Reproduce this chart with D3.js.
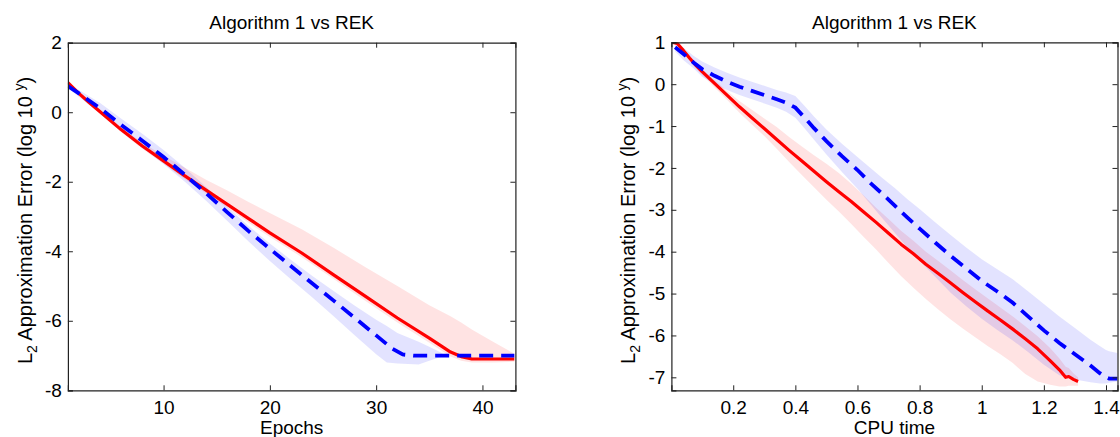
<!DOCTYPE html>
<html>
<head>
<meta charset="utf-8">
<script src="https://cdn.jsdelivr.net/npm/d3@7"></script>
<style>
  html, body { margin: 0; padding: 0; background: #fff; }
  svg { display: block; font-family: "Liberation Sans", Arial, sans-serif; }
</style>
</head>
<body>
<svg id="chart" width="1120" height="437"></svg>
<script>
// ---------------- DATA ----------------
const titleText = "Algorithm 1 vs REK";

// Left panel: Epochs
const epochTicks = [10, 20, 30, 40];
const epochYTicks = [-8, -6, -4, -2, 0, 2];
const redEpochX = [1, 2, 3, 4, 6, 8, 10, 12, 14, 16, 18, 20, 23, 26, 29, 32, 35, 37, 38, 39, 43];
const redEpochY = [0.85, 0.55, 0.28, 0.02, -0.5, -0.97, -1.4, -1.83, -2.24, -2.65, -3.06, -3.47, -4.05, -4.68, -5.3, -5.92, -6.5, -6.9, -7.03, -7.1, -7.1];
const blueEpochX = [1, 2, 4, 6, 8, 10, 12, 14, 16, 18, 20, 22, 24, 26, 28, 30, 31.5, 32.5, 33.5, 43];
const blueEpochY = [0.75, 0.55, 0.12, -0.36, -0.82, -1.29, -1.8, -2.33, -2.88, -3.42, -3.93, -4.43, -4.93, -5.42, -5.92, -6.42, -6.8, -6.97, -7.0, -7.0];
const redEpochBandX = [1, 2, 4, 6, 8, 10, 12, 14, 16, 18, 20, 23, 26, 29, 32, 35, 37, 38, 39, 41, 43];
const redEpochBandLo = [0.83, 0.5, -0.04, -0.57, -1.05, -1.48, -1.93, -2.34, -2.75, -3.18, -3.59, -4.17, -4.8, -5.43, -6.05, -6.63, -7.03, -7.15, -7.2, -7.2, -7.18];
const redEpochBandHi = [0.87, 0.6, 0.08, -0.43, -0.87, -1.25, -1.6, -1.94, -2.25, -2.58, -2.9, -3.37, -3.9, -4.46, -5.0, -5.55, -5.87, -6.05, -6.25, -6.6, -6.95];
const blueEpochBandX = [1, 2, 4, 6, 8, 10, 12, 14, 16, 18, 20, 22, 24, 26, 28, 30, 31, 32, 34, 35, 36, 36.5];
const blueEpochBandLo = [0.7, 0.45, -0.03, -0.54, -1.02, -1.49, -2.0, -2.55, -3.13, -3.72, -4.28, -4.81, -5.33, -5.87, -6.42, -6.96, -7.2, -7.23, -7.26, -7.15, -7.05, -7.0];
const blueEpochBandHi = [0.8, 0.65, 0.27, -0.18, -0.62, -1.09, -1.6, -2.15, -2.73, -3.27, -3.78, -4.25, -4.71, -5.14, -5.57, -5.97, -6.15, -6.35, -6.6, -6.75, -6.9, -7.0];

// Right panel: CPU time
const cpuTicks = [0.2, 0.4, 0.6, 0.8, 1, 1.2, 1.4];
const cpuYTicks = [-7, -6, -5, -4, -3, -2, -1, 0, 1];
const redCpuX = [0.003, 0.02, 0.04, 0.06, 0.08, 0.10, 0.14, 0.18, 0.22, 0.26, 0.30, 0.34, 0.38, 0.42, 0.46, 0.50, 0.54, 0.58, 0.62, 0.66, 0.70, 0.74, 0.78, 0.82, 0.86, 0.90, 0.94, 0.98, 1.02, 1.06, 1.10, 1.14, 1.18, 1.22, 1.25, 1.27, 1.28, 1.295, 1.31];
const redCpuY = [1.0, 0.97, 0.8, 0.62, 0.45, 0.3, 0.02, -0.26, -0.54, -0.8, -1.06, -1.32, -1.58, -1.83, -2.08, -2.33, -2.57, -2.8, -3.05, -3.3, -3.56, -3.82, -4.05, -4.3, -4.52, -4.75, -4.98, -5.2, -5.42, -5.63, -5.85, -6.08, -6.32, -6.6, -6.82, -7.0, -6.98, -7.05, -7.1];
const blueCpuX = [0.013, 0.04, 0.072, 0.1, 0.14, 0.18, 0.22, 0.26, 0.30, 0.34, 0.37, 0.40, 0.43, 0.46, 0.50, 0.55, 0.60, 0.64, 0.68, 0.72, 0.76, 0.80, 0.85, 0.90, 0.95, 1.00, 1.05, 1.10, 1.15, 1.20, 1.25, 1.30, 1.35, 1.38, 1.40, 1.41, 1.437];
const blueCpuY = [0.88, 0.72, 0.52, 0.36, 0.2, 0.06, -0.06, -0.16, -0.26, -0.36, -0.44, -0.56, -0.8, -1.05, -1.36, -1.72, -2.05, -2.35, -2.62, -2.9, -3.18, -3.45, -3.78, -4.1, -4.4, -4.7, -4.95, -5.22, -5.55, -5.88, -6.18, -6.45, -6.72, -6.9, -7.0, -7.03, -7.03];
const redCpuBandX = redCpuX;
const redCpuBandLo = [1.0, 0.95, 0.75, 0.56, 0.38, 0.22, -0.08, -0.37, -0.68, -0.96, -1.24, -1.54, -1.86, -2.16, -2.46, -2.76, -3.04, -3.34, -3.65, -3.95, -4.27, -4.58, -4.86, -5.13, -5.38, -5.62, -5.84, -6.05, -6.26, -6.45, -6.66, -6.92, -7.1, -7.18, -7.22, -7.22, -7.2, -7.2, -7.2];
const redCpuBandHi = [1.0, 0.99, 0.85, 0.67, 0.5, 0.35, 0.1, -0.16, -0.4, -0.61, -0.82, -1.02, -1.26, -1.48, -1.7, -1.9, -2.12, -2.38, -2.66, -2.95, -3.22, -3.5, -3.74, -4.0, -4.22, -4.45, -4.68, -4.9, -5.12, -5.33, -5.55, -5.78, -6.02, -6.3, -6.55, -6.75, -6.78, -6.9, -7.0];
const blueCpuBandX = blueCpuX;
const blueCpuBandLo = [0.78, 0.57, 0.38, 0.18, 0.0, -0.14, -0.26, -0.36, -0.46, -0.56, -0.66, -0.8, -1.06, -1.33, -1.68, -2.1, -2.5, -2.85, -3.2, -3.55, -3.9, -4.22, -4.6, -4.98, -5.3, -5.6, -5.87, -6.12, -6.4, -6.7, -6.95, -7.05, -7.12, -7.15, -7.15, -7.13, -7.1];
const blueCpuBandHi = [0.98, 0.87, 0.68, 0.54, 0.4, 0.27, 0.16, 0.06, -0.04, -0.14, -0.2, -0.28, -0.52, -0.77, -1.08, -1.42, -1.74, -1.99, -2.24, -2.48, -2.74, -2.98, -3.3, -3.6, -3.9, -4.18, -4.42, -4.66, -4.95, -5.25, -5.55, -5.82, -6.1, -6.25, -6.35, -6.38, -6.42];

// ---------------- DRAW ----------------
const svg = d3.select("#chart");
const FONT = 19;

function zip(xs, ys) { return xs.map((x, i) => [x, ys[i]]); }
function zip3(xs, lo, hi) { return xs.map((x, i) => [x, lo[i], hi[i]]); }

function panel(cfg) {
  const x = d3.scaleLinear().domain(cfg.xDomain).range([cfg.left, cfg.right]);
  const y = d3.scaleLinear().domain(cfg.yDomain).range([cfg.bottom, cfg.top]);
  const g = svg.append("g");

  const clipId = "clip" + cfg.id;
  svg.append("clipPath").attr("id", clipId)
    .append("rect").attr("x", cfg.left).attr("y", cfg.top)
    .attr("width", cfg.right - cfg.left).attr("height", cfg.bottom - cfg.top);

  const plot = g.append("g").attr("clip-path", `url(#${clipId})`);

  const area = d3.area().x(d => x(d[0])).y0(d => y(d[1])).y1(d => y(d[2]));
  const line = d3.line().x(d => x(d[0])).y(d => y(d[1]));

  plot.append("path").datum(zip3(cfg.redBandX, cfg.redBandLo, cfg.redBandHi))
    .attr("d", area).attr("fill", "#ff0000").attr("fill-opacity", 0.11).attr("stroke", "none");
  plot.append("path").datum(zip3(cfg.blueBandX, cfg.blueBandLo, cfg.blueBandHi))
    .attr("d", area).attr("fill", "#0000ff").attr("fill-opacity", 0.11).attr("stroke", "none");

  plot.append("path").datum(zip(cfg.redX, cfg.redY))
    .attr("d", line).attr("fill", "none").attr("stroke", "#ff0000")
    .attr("stroke-width", 3.2).attr("stroke-linejoin", "round");
  plot.append("path").datum(zip(cfg.blueX, cfg.blueY))
    .attr("d", line).attr("fill", "none").attr("stroke", "#0000ff")
    .attr("stroke-width", 3.8).attr("stroke-dasharray", "14,8");

  // axes
  const tick = 5;
  const fmt = d => d3.format("~g")(d).replace("\u2212", "-");
  const axB = d3.axisBottom(x).tickValues(cfg.xTicks).tickSize(-tick).tickPadding(10).tickFormat(fmt);
  const axT = d3.axisTop(x).tickValues(cfg.xTicks).tickSize(-tick).tickFormat("");
  const axL = d3.axisLeft(y).tickValues(cfg.yTicks).tickSize(-tick).tickPadding(6).tickFormat(fmt);
  const axR = d3.axisRight(y).tickValues(cfg.yTicks).tickSize(-tick).tickFormat("");

  const gb = g.append("g").attr("transform", `translate(0,${cfg.bottom})`).call(axB);
  const gt = g.append("g").attr("transform", `translate(0,${cfg.top})`).call(axT);
  const gl = g.append("g").attr("transform", `translate(${cfg.left},0)`).call(axL);
  const gr = g.append("g").attr("transform", `translate(${cfg.right},0)`).call(axR);
  [gb, gt, gl, gr].forEach(a => {
    a.select(".domain").attr("stroke", "#222").attr("stroke-width", 1.2);
    a.selectAll(".tick line").attr("stroke", "#222").attr("stroke-width", 1);
    a.selectAll(".tick text").attr("fill", "#000").attr("font-size", FONT)
      .attr("font-family", '"Liberation Sans", Arial, sans-serif');
  });

  const cx = (cfg.left + cfg.right) / 2;
  // title
  g.append("text").attr("x", cx).attr("y", 28.5).attr("text-anchor", "middle")
    .attr("font-size", FONT).attr("fill", "#000").text(titleText);
  // x label
  g.append("text").attr("x", cx).attr("y", 433.5).attr("text-anchor", "middle")
    .attr("font-size", FONT).attr("fill", "#000").text(cfg.xLabel);
  // y label
  const cy = (cfg.top + cfg.bottom) / 2;
  const yl = g.append("text")
    .attr("transform", `translate(${cfg.left - 36},${cy + 4}) rotate(-90)`)
    .attr("text-anchor", "middle").attr("font-size", 20).attr("fill", "#000");
  yl.append("tspan").text("L");
  yl.append("tspan").attr("font-size", 14).attr("dy", 5).text("2");
  yl.append("tspan").attr("dy", -5).text(" Approximation Error (log 10 ");
  yl.append("tspan").attr("font-size", 14).attr("dy", -8).text("y");
  yl.append("tspan").attr("dy", 8).text(")");
}

panel({
  id: "L", left: 67.9, right: 515.4, top: 42.7, bottom: 390.3,
  xDomain: [1, 43.1], yDomain: [-8, 2], xTicks: epochTicks, yTicks: epochYTicks,
  xLabel: "Epochs",
  redX: redEpochX, redY: redEpochY, blueX: blueEpochX, blueY: blueEpochY,
  redBandX: redEpochBandX, redBandLo: redEpochBandLo, redBandHi: redEpochBandHi,
  blueBandX: blueEpochBandX, blueBandLo: blueEpochBandLo, blueBandHi: blueEpochBandHi
});
panel({
  id: "R", left: 671.4, right: 1117.5, top: 42.3, bottom: 390.3,
  xDomain: [0.001, 1.437], yDomain: [-7.31, 1], xTicks: cpuTicks, yTicks: cpuYTicks,
  xLabel: "CPU time",
  redX: redCpuX, redY: redCpuY, blueX: blueCpuX, blueY: blueCpuY,
  redBandX: redCpuBandX, redBandLo: redCpuBandLo, redBandHi: redCpuBandHi,
  blueBandX: blueCpuBandX, blueBandLo: blueCpuBandLo, blueBandHi: blueCpuBandHi
});
</script>
</body>
</html>
